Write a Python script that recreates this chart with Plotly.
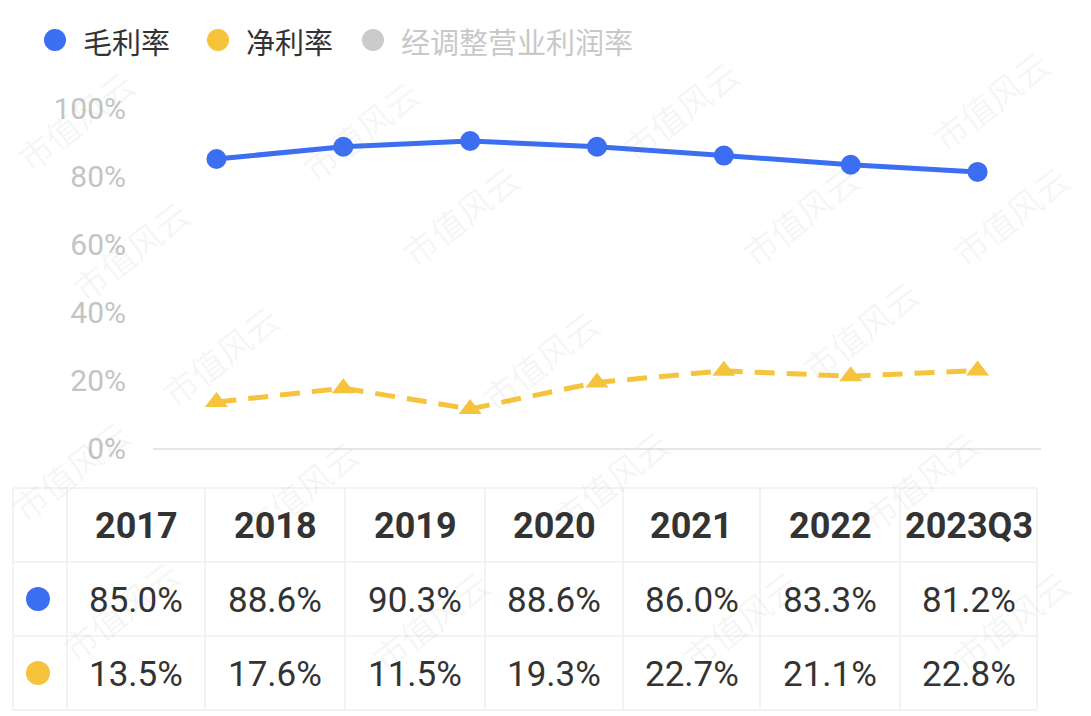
import plotly.graph_objects as go

# ---------------- data ----------------
categories = ["2017", "2018", "2019", "2020", "2021", "2022", "2023Q3"]
gross_margin = [85.0, 88.6, 90.3, 88.6, 86.0, 83.3, 81.2]
net_margin = [13.5, 17.6, 11.5, 19.3, 22.7, 21.1, 22.8]
series_names = ["毛利率", "净利率", "经调整营业利润率"]
y_tick_vals = [0, 20, 40, 60, 80, 100]
y_tick_text = ["0%", "20%", "40%", "60%", "80%", "100%"]
watermark_text = "市值风云"

# ---------------- style ----------------
W, H = 1091, 716
BLUE = "#3b6ef0"
YELLOW = "#f6c33c"
GREY = "#cbcbcb"
TXT = "#333333"
CJK = "Noto Sans CJK SC, Roboto, sans-serif"
NUM = "Roboto, Noto Sans CJK SC, sans-serif"

PL, PR, PT, PB = 153, 1041, 108, 448  # plot area in pixels


def px_x(px):
    return (px - PL) / (PR - PL)


def px_y(py):
    return (PB - py) / (PB - PT)


fig = go.Figure()

# data lines
fig.add_trace(go.Scatter(
    x=categories, y=gross_margin, mode="lines+markers", name=series_names[0],
    line=dict(color=BLUE, width=5),
    marker=dict(symbol="circle", size=20, color=BLUE),
    showlegend=False, hoverinfo="skip"))
fig.add_trace(go.Scatter(
    x=categories, y=net_margin, mode="lines+markers", name=series_names[1],
    line=dict(color=YELLOW, width=5, dash="20px,12px"),
    marker=dict(symbol="triangle-up", size=20, color=YELLOW),
    showlegend=False, hoverinfo="skip"))

shapes = []
annotations = []

# watermark tiles (drawn first so they stay beneath other text)
wm_positions = [(75, 120), (360, 130), (680, 110), (990, 100),
                (130, 250), (460, 215), (800, 215), (1010, 215),
                (220, 355), (540, 360), (860, 330),
                (70, 470), (300, 490), (610, 480), (920, 480),
                (120, 610), (430, 620), (740, 620), (1010, 620)]
for (wx, wy) in wm_positions:
    annotations.append(dict(x=px_x(wx), y=px_y(wy), xref="paper", yref="paper",
                            xanchor="center", yanchor="middle",
                            text=watermark_text, showarrow=False, textangle=-38,
                            font=dict(family=CJK, size=34, color="rgba(150,150,150,0.09)")))

# ---------------- legend (echarts style, circles only) ----------------
legend_colors = [BLUE, YELLOW, GREY]
legend_text_colors = [TXT, TXT, "#c8c8c8"]
legend_cx = [55, 218, 373]
legend_cy = 40
for i, nm in enumerate(series_names):
    r = 11
    shapes.append(dict(type="circle", xref="paper", yref="paper",
                       x0=px_x(legend_cx[i] - r), x1=px_x(legend_cx[i] + r),
                       y0=px_y(legend_cy + r), y1=px_y(legend_cy - r),
                       fillcolor=legend_colors[i], line=dict(width=0)))
    annotations.append(dict(x=px_x(legend_cx[i] + 26), y=px_y(legend_cy + 1), xref="paper", yref="paper",
                            xanchor="left", yanchor="middle", text=nm, showarrow=False,
                            font=dict(family=CJK, size=29, color=legend_text_colors[i])))

# ---------------- table ----------------
v_lines = [13, 67, 205, 345, 485, 623, 760, 900, 1037]
h_lines = [488, 562, 636, 710]
for xv in v_lines:
    shapes.append(dict(type="line", xref="paper", yref="paper",
                       x0=px_x(xv), x1=px_x(xv), y0=px_y(h_lines[0]), y1=px_y(h_lines[-1]),
                       line=dict(color="#efefef", width=1.5)))
for yv in h_lines:
    shapes.append(dict(type="line", xref="paper", yref="paper",
                       x0=px_x(v_lines[0]), x1=px_x(v_lines[-1]), y0=px_y(yv), y1=px_y(yv),
                       line=dict(color="#efefef", width=1.5)))

row_centers = [(h_lines[i] + h_lines[i + 1]) / 2 for i in range(3)]
col_centers = [(v_lines[i] + v_lines[i + 1]) / 2 for i in range(1, len(v_lines) - 1)]
for j, cat in enumerate(categories):
    cells = [f"<b>{cat}</b>", f"{gross_margin[j]:.1f}%", f"{net_margin[j]:.1f}%"]
    sizes = [36, 35, 35]
    for k, txt in enumerate(cells):
        annotations.append(dict(x=px_x(col_centers[j]), y=px_y(row_centers[k] + 1),
                                xref="paper", yref="paper",
                                xanchor="center", yanchor="middle",
                                text=txt, showarrow=False,
                                font=dict(family=NUM, size=sizes[k], color=TXT)))

# colored dots in the first column
for r_c, col in zip([row_centers[1], row_centers[2]], [BLUE, YELLOW]):
    cx, rr = 38, 12
    shapes.append(dict(type="circle", xref="paper", yref="paper",
                       x0=px_x(cx - rr), x1=px_x(cx + rr), y0=px_y(r_c + rr), y1=px_y(r_c - rr),
                       fillcolor=col, line=dict(width=0)))

fig.update_layout(
    width=W, height=H, autosize=False,
    margin=dict(l=PL, r=W - PR, t=PT, b=H - PB, pad=0),
    paper_bgcolor="white", plot_bgcolor="white",
    showlegend=False,
    xaxis=dict(type="category", categoryorder="array", categoryarray=categories,
               range=[-0.5, len(categories) - 0.5],
               showticklabels=False, ticks="", showgrid=False, zeroline=False,
               showline=True, linecolor="#e6e6e6", linewidth=2),
    yaxis=dict(range=[0, 100], tickvals=y_tick_vals, ticktext=y_tick_text,
               showgrid=False, zeroline=False, showline=False, ticks="",
               ticklabelstandoff=26,
               tickfont=dict(family=NUM, size=30, color="#c4c4c4")),
    shapes=shapes,
    annotations=annotations,
)

fig.write_html("out.html")
